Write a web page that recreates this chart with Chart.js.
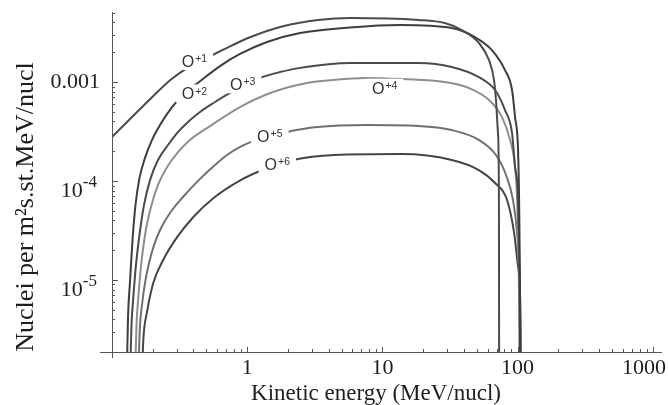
<!DOCTYPE html>
<html>
<head>
<meta charset="utf-8">
<script src="https://cdn.jsdelivr.net/npm/chart.js@4.4.0/dist/chart.umd.min.js"></script>
<style>
  html, body { margin: 0; padding: 0; background: #fff; }
  #wrap { width: 668px; height: 405px; position: relative; }
</style>
</head>
<body>
<div id="wrap"><canvas id="flux"></canvas></div>
<script>
// tick labels
const xTickValues = [1, 10, 100, 1000];
const xTickLabels = ['1', '10', '100', '1000'];
const yTickValues = [1e-3, 1e-4, 1e-5];
const yTickLabels = ['0.001', '10^-4', '10^-5'];

const seriesNames = ['O+1', 'O+2', 'O+3', 'O+4', 'O+5', 'O+6'];

// energy (MeV/nucl) and flux, one pair per charge state
const o1Energy = [0.1, 0.136, 0.192, 0.270, 0.380, 0.535, 0.754, 1.06, 1.87, 3.34, 5.88, 18.5, 28.9, 38.6, 51.7, 61.4, 66.9, 69.2, 71.6, 72.8, 73.0];
const o1Flux = [2.78e-4, 4.23e-4, 6.73e-4, 1.05e-3, 1.45e-3, 1.83e-3, 2.31e-3, 2.85e-3, 3.68e-3, 4.23e-3, 4.43e-3, 4.23e-3, 3.94e-3, 3.35e-3, 2.48e-3, 1.67e-3, 1.05e-3, 6.58e-4, 3.05e-4, 6.4e-5, 1e-6];

const o2Energy = [0.1285, 0.1313, 0.1358, 0.1418, 0.1492, 0.1597, 0.1754, 0.1977, 0.2265, 0.2779, 0.3467, 0.4477, 0.6292, 0.8845, 1.401, 2.458, 5.76, 13.5, 32.6, 48.3, 64.6, 80.7, 91.0, 95.8, 100.8, 102.6, 104.4, 105];
const o2Flux = [1e-6, 4.13e-6, 9.53e-6, 2.53e-5, 5.72e-5, 1.07e-4, 1.71e-4, 2.6e-4, 3.68e-4, 5.59e-4, 7.75e-4, 1.02e-3, 1.45e-3, 1.92e-3, 2.54e-3, 3.13e-3, 3.56e-3, 3.77e-3, 3.51e-3, 2.85e-3, 2.1e-3, 1.32e-3, 8.3e-4, 4.42e-4, 2.06e-4, 6.45e-5, 6.3e-6, 1e-6];

const o3Energy = [0.1358, 0.1394, 0.1442, 0.1505, 0.1597, 0.1725, 0.1911, 0.2189, 0.2596, 0.3026, 0.3648, 0.4477, 0.5778, 0.7461, 0.9631, 1.244, 1.748, 2.458, 5.76, 18.5, 32.6, 51.7, 68.1, 80.7, 91.0, 95.8, 100.8, 103.6, 104.5];
const o3Flux = [1e-6, 3.5e-6, 7.05e-6, 1.42e-5, 2.85e-5, 5.72e-5, 1.02e-4, 1.63e-4, 2.31e-4, 3.05e-4, 3.95e-4, 4.98e-4, 6.28e-4, 7.75e-4, 9.33e-4, 1.1e-3, 1.26e-3, 1.39e-3, 1.56e-3, 1.56e-3, 1.42e-3, 1.12e-3, 8.3e-4, 5.21e-4, 3.05e-4, 1.38e-4, 6.45e-5, 6.3e-6, 1e-6];

const o4Energy = [0.148, 0.1518, 0.157, 0.1652, 0.1769, 0.1943, 0.2189, 0.2552, 0.3078, 0.3774, 0.5307, 0.8845, 1.552, 2.769, 4.311, 7.435, 14.21, 28.9, 43.6, 61.4, 76.7, 88.0, 95.8, 99.2, 102.6, 103.5];
const o4Flux = [1e-6, 3.5e-6, 7.05e-6, 1.52e-5, 3.05e-5, 5.46e-5, 9.11e-5, 1.38e-4, 1.96e-4, 2.6e-4, 3.59e-4, 5.59e-4, 7.93e-4, 9.78e-4, 1.05e-3, 1.1e-3, 1.07e-3, 1e-3, 8.7e-4, 6.58e-4, 4.42e-4, 2.6e-4, 1.38e-4, 6.45e-5, 6.3e-6, 1e-6];

const o5Energy = [0.1565, 0.1605, 0.1667, 0.1754, 0.1879, 0.2045, 0.2304, 0.2685, 0.335, 0.4477, 0.5778, 0.709, 0.9152, 1.182, 1.97, 3.283, 7.692, 18.5, 32.6, 51.7, 69.2, 82.1, 92.5, 99.2, 102.6, 105.2, 106];
const o5Flux = [1e-6, 3.12e-6, 5.58e-6, 9.31e-6, 1.48e-5, 2.25e-5, 3.35e-5, 4.75e-5, 6.89e-5, 1.05e-4, 1.45e-4, 1.83e-4, 2.26e-4, 2.6e-4, 3.13e-4, 3.51e-4, 3.68e-4, 3.6e-4, 3.27e-4, 2.6e-4, 1.83e-4, 1.15e-4, 6.43e-5, 2.99e-5, 1.35e-5, 2.92e-6, 1e-6];

const o6Energy = [0.166, 0.171, 0.181, 0.202, 0.239, 0.304, 0.40, 0.564, 0.895, 1.30, 2.18, 4.40, 13.8, 32.6, 51.7, 68.1, 83.6, 94.2, 100.8, 104.4, 105.5];
const o6Flux = [1e-6, 2.65e-6, 4.64e-6, 9.33e-6, 1.59e-5, 2.72e-5, 4.33e-5, 6.73e-5, 1.02e-4, 1.29e-4, 1.63e-4, 1.83e-4, 1.87e-4, 1.63e-4, 1.29e-4, 9.55e-5, 6.43e-5, 3e-5, 1.35e-5, 6.3e-6, 1e-6];

// where each curve label sits (energy, flux)
const labelEnergy = [0.407, 0.407, 0.926, 10.4, 1.47, 1.67];
const labelFlux = [1.63e-3, 7.65e-4, 9.48e-4, 8.76e-4, 2.85e-4, 1.49e-4];

const energies = [o1Energy, o2Energy, o3Energy, o4Energy, o5Energy, o6Energy];
const fluxes = [o1Flux, o2Flux, o3Flux, o4Flux, o5Flux, o6Flux];
const lineColors = ['#4b4b4b', '#3d3d3d', '#4a4a4a', '#8e8e8e', '#707070', '#454545'];

const serif = '"Liberation Serif", "Times New Roman", serif';
const sans = '"Liberation Sans", Arial, sans-serif';

function isNice(v) {
  const e = Math.floor(Math.log10(v) + 1e-9);
  const s = v / Math.pow(10, e);
  return Math.abs(s - Math.round(s)) < 1e-6 ? Math.round(s) : 0;
}

const decor = {
  id: 'decor',
  afterDatasetsDraw(chart) {
    const { ctx, chartArea: a, scales: { x, y } } = chart;
    ctx.save();

    // curve labels, with a white patch that breaks the line
    seriesNames.forEach((name, i) => {
      const px = x.getPixelForValue(labelEnergy[i]);
      const py = y.getPixelForValue(labelFlux[i]);
      const sup = name.slice(1);
      ctx.font = '16px ' + sans;
      const wO = ctx.measureText('O').width;
      ctx.font = '10.5px ' + sans;
      const wS = ctx.measureText(sup).width;
      const w = wO + wS + 1;
      const left = px - w / 2;
      ctx.fillStyle = '#fff';
      ctx.fillRect(left - 6, py - 9, w + 12, 18);
      ctx.fillStyle = '#333';
      ctx.textBaseline = 'alphabetic';
      ctx.textAlign = 'left';
      ctx.font = '16px ' + sans;
      ctx.fillText('O', left, py + 5.8);
      ctx.font = '10.5px ' + sans;
      ctx.fillText(sup, left + wO + 1, py + 1);
    });

    // axes lines
    ctx.strokeStyle = '#555';
    ctx.lineWidth = 1;
    ctx.beginPath();
    ctx.moveTo(a.left - 12, Math.round(a.bottom) + 0.5);
    ctx.lineTo(a.right, Math.round(a.bottom) + 0.5);
    ctx.moveTo(Math.round(a.left) + 0.5, a.top);
    ctx.lineTo(Math.round(a.left) + 0.5, a.bottom + 6);
    ctx.stroke();

    // inward ticks
    ctx.beginPath();
    x.ticks.forEach(t => {
      const s = isNice(t.value);
      if (!s) return;
      const px = Math.round(x.getPixelForValue(t.value)) + 0.5;
      if (px < a.left + 2 || px > a.right) return;
      const len = s === 1 ? 5 : 3;
      ctx.moveTo(px, a.bottom);
      ctx.lineTo(px, a.bottom - len);
    });
    y.ticks.forEach(t => {
      const s = isNice(t.value);
      if (!s) return;
      const py = Math.round(y.getPixelForValue(t.value)) + 0.5;
      if (py < a.top || py > a.bottom - 2) return;
      const len = s === 1 ? 6 : 3;
      ctx.moveTo(a.left, py);
      ctx.lineTo(a.left + len, py);
    });
    ctx.stroke();

    // tick labels
    ctx.fillStyle = '#1e1e1e';
    ctx.textBaseline = 'alphabetic';
    ctx.font = '22px ' + serif;
    ctx.textAlign = 'center';
    xTickValues.forEach((v, i) => {
      const w = ctx.measureText(xTickLabels[i]).width;
      const cx = Math.min(x.getPixelForValue(v), chart.width - 2 - w / 2);
      ctx.fillText(xTickLabels[i], cx, 374);
    });
    yTickValues.forEach((v, i) => {
      const py = y.getPixelForValue(v);
      const parts = yTickLabels[i].split('^');
      ctx.textAlign = 'right';
      if (parts.length === 1) {
        ctx.font = '22px ' + serif;
        ctx.fillText(parts[0], 100, py + 5.5);
      } else {
        ctx.font = '17px ' + serif;
        const ws = ctx.measureText(parts[1]).width;
        ctx.fillText(parts[1], 97, py + 6);
        ctx.font = '22px ' + serif;
        ctx.fillText(parts[0], 97 - ws, py + 16);
      }
    });

    // axis titles
    ctx.textAlign = 'center';
    ctx.font = '23px ' + serif;
    ctx.fillText('Kinetic energy (MeV/nucl)', 376, 400);
    ctx.translate(33, 207);
    ctx.rotate(-Math.PI / 2);
    ctx.font = '26px ' + serif;
    ctx.fillText('Nuclei per m\u00B2s.st.MeV/nucl', 0, 0);
    ctx.restore();
  }
};

new Chart(document.getElementById('flux'), {
  type: 'line',
  data: {
    datasets: seriesNames.map((name, i) => ({
      label: name,
      data: energies[i].map((e, j) => ({ x: e, y: fluxes[i][j] })),
      borderColor: lineColors[i],
      borderWidth: 2,
      pointRadius: 0,
      fill: false,
      cubicInterpolationMode: 'monotone'
    }))
  },
  options: {
    responsive: true,
    maintainAspectRatio: false,
    animation: false,
    layout: { padding: { top: 12, right: 6, left: 0, bottom: 0 } },
    plugins: { legend: { display: false }, tooltip: { enabled: false } },
    scales: {
      x: {
        type: 'logarithmic',
        min: 0.1,
        max: 1170,
        grid: { display: false },
        border: { display: false },
        ticks: { display: false },
        afterFit: s => { s.height = 53; }
      },
      y: {
        type: 'logarithmic',
        min: 1.87e-6,
        max: 0.0051,
        grid: { display: false },
        border: { display: false },
        ticks: { display: false },
        afterFit: s => { s.width = 112; }
      }
    }
  },
  plugins: [decor]
});
</script>
</body>
</html>
